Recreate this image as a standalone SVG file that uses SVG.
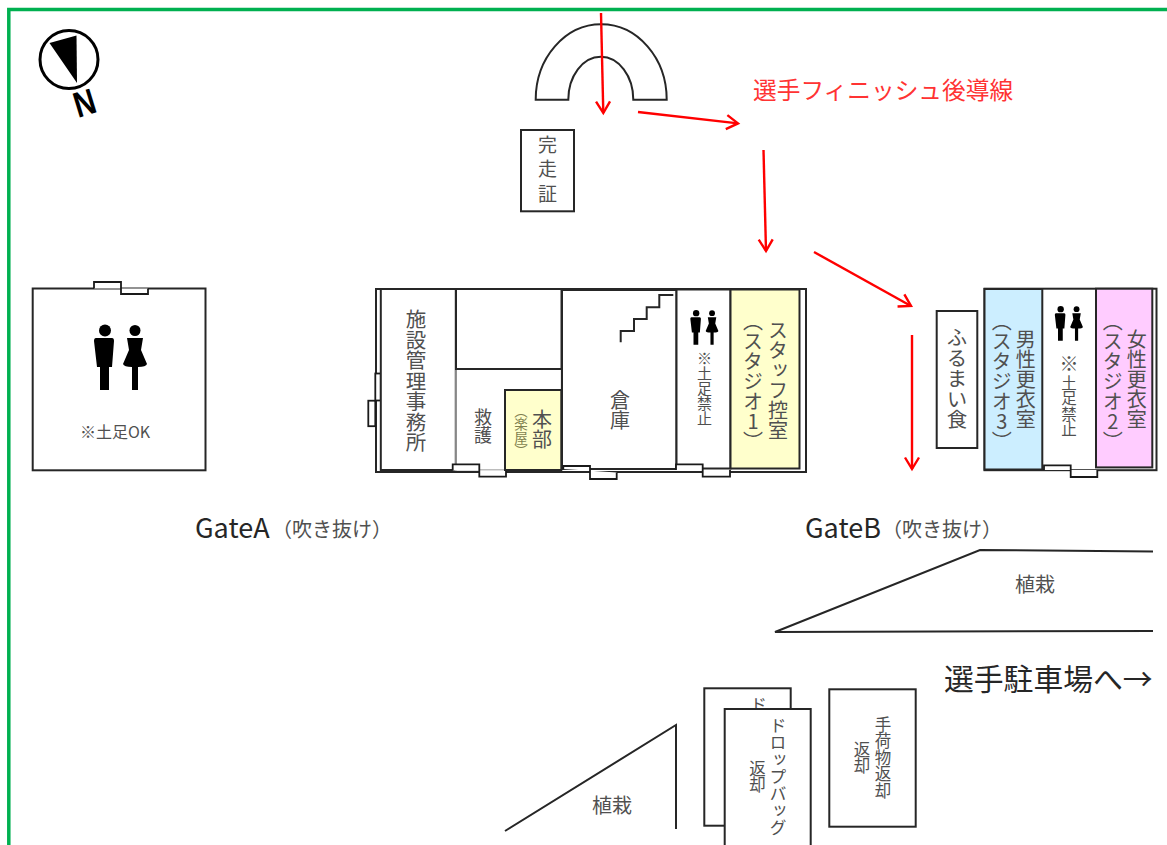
<svg xmlns="http://www.w3.org/2000/svg" xmlns:xlink="http://www.w3.org/1999/xlink" width="1167" height="845" viewBox="0 0 1167 845">
<style>
text{font-family:"Noto Sans CJK JP","Noto Sans",sans-serif;fill:#505050}
.v{writing-mode:vertical-rl;text-anchor:start}
.b{fill:#fff;stroke:#262626;stroke-width:2}
.t{fill:none;stroke:#262626;stroke-width:2}
.g{fill:none;stroke:#a6a6a6;stroke-width:1.5}
.d{fill:#fff;stroke:#1a1a1a;stroke-width:1.8}
.y{fill:#ffffcc;stroke:#262626;stroke-width:2}
.r{fill:none;stroke:#ff0000;stroke-width:2.4;marker-end:url(#ah)}
.u{text-orientation:upright}
.k{fill:#262626}
</style>
<defs>
<marker id="ah" markerUnits="userSpaceOnUse" markerWidth="18" markerHeight="20" refX="14" refY="10" orient="auto">
<path d="M2.500 3 L14 10 L2.500 17" fill="none" stroke="#ff0000" stroke-width="2.400"/>
</marker>
<g id="wc">
<ellipse cx="105" cy="330.500" rx="6" ry="6"/>
<path d="M96 338 H112 Q114 338 114 341 L112 367 H109 V390 H100 V367 H97 L94 341 Q94 338 96 338Z"/>
<ellipse cx="135" cy="330.500" rx="5.500" ry="5.500"/>
<path d="M127 338 H143 L141 350 L147 364 Q146 367 138 367 V390 H132 V367 Q124 367 123 364 L129 350Z"/>
</g>
</defs>
<rect width="1167" height="845" fill="#fff"/>
<path d="M8.800 845 V9.500 H1167" fill="none" stroke="#00b050" stroke-width="3.500"/>

<g id="compass">
<circle cx="69" cy="59.500" r="29" fill="#fff" stroke="#000" stroke-width="3"/>
<path d="M49.500 43 L76.500 35.500 L77 83Z" fill="#000"/>
<text x="0" y="0" transform="translate(78 118) rotate(-17) scale(.82 1)" style="font-family:'Liberation Sans',sans-serif;font-weight:700;fill:#000" font-size="36">N</text>
</g>

<g id="restroom-a">
<rect class="b" x="32.700" y="288.500" width="172.800" height="181.800"/>
<path class="d" d="M94 288.500 V282 H121 V294 H148 V288.500"/>
<use xlink:href="#wc" href="#wc"/>
<text x="80" y="438" font-size="16">※土足OK</text>
</g>

<g id="building-1">
<rect class="b" x="376" y="289" width="430" height="183"/>
<rect class="d" x="368.300" y="400.700" width="7" height="25.500"/>
<rect class="d" x="375.300" y="373.500" width="5.500" height="27"/>
</g>
<g id="office">
<rect class="b" x="380.800" y="289" width="75" height="181"/>
<text class="v" x="416" y="309" font-size="20.500">施設管理事務所</text>
</g>
<g id="first-aid">
<path class="g" d="M456 369 V470 H505 M561.500 369 V390"/>
<text class="v" x="483" y="408" font-size="18">救護</text>
<path class="d" d="M452.700 470.500 V464.300 H479.300 V476.700 H506 V470.500"/>
</g>
<g id="upper-room">
<rect class="b" x="456" y="289" width="105.500" height="80"/>
</g>
<g id="honbu">
<rect class="y" x="505" y="390" width="56.300" height="80"/>
<text class="v" x="542" y="409" font-size="20">本部</text>
<text class="v" x="521" y="404" font-size="13.500" style="fill:#7f7f4f">（楽屋）</text>
</g>
<g id="storage">
<rect class="b" x="562" y="290" width="114.500" height="179" stroke-width="2.500"/>
<path class="t" d="M620.700 342.300 V331 H634 V319 H646.700 V307.300 H659.300 V295 H673.300"/>
<text class="v" x="620" y="390" font-size="20">倉庫</text>
<path class="d" d="M563.300 469 V466 H590 V479 H616.700 V472.500"/>
</g>
<g id="restroom-b">
<rect class="b" x="676.500" y="289.500" width="54" height="179" />
<use xlink:href="#wc" href="#wc" transform="translate(640.500 138) scale(.53)"/>
<text class="v" x="704.500" y="351" font-size="15">※土足禁止</text>
<path class="d" d="M676 470 V464.300 H702.700 V476.700 H730 V470"/>
</g>
<g id="staff-room">
<rect class="y" x="730.500" y="289.500" width="69" height="179"/>
<text class="v" x="778" y="320" font-size="20">スタッフ控室</text>
<text class="v" x="753" y="311" font-size="20">（スタジオ<tspan class="u">1</tspan>）</text>
</g>

<g id="finish-arch">
<path class="t" d="M535.700 99.700 A65.500 75.400 0 0 1 666.700 99.700 H633.300 A32.500 43 0 0 0 568.300 99.700Z"/>
</g>
<g id="certificate">
<rect class="b" x="521" y="130" width="53" height="81.300"/>
<text class="v" x="547.500" y="135" font-size="19" style="letter-spacing:5.500px">完走証</text>
</g>

<g id="snack">
<rect class="b" x="936.700" y="311" width="40.600" height="137"/>
<text class="v" x="957" y="327" font-size="20.500">ふるまい食</text>
</g>
<g id="building-2">
<rect class="b" x="984.500" y="288.700" width="172" height="181.500"/>
</g>
<g id="mens-room">
<rect x="984.500" y="289" width="57.800" height="180.500" fill="#cceeff" stroke="#262626" stroke-width="2"/>
<text class="v" x="1025.700" y="329" font-size="20">男性更衣室</text>
<text class="v" x="1001.700" y="311" font-size="20">（スタジオ<tspan class="u">3</tspan>）</text>
</g>
<g id="restroom-c">
<use xlink:href="#wc" href="#wc" transform="translate(1005 134) scale(.53)"/>
<text class="v" x="1069" y="354" font-size="19">※</text>
<text class="v" x="1069" y="375" font-size="15.500">土足禁止</text>
<path class="d" d="M1044 470 V465.300 H1070.700 V477 H1097.300 V470"/>
</g>
<g id="womens-room">
<rect x="1096" y="288.700" width="56.300" height="178.700" fill="#ffccff" stroke="#262626" stroke-width="2"/>
<text class="v" x="1136.700" y="329" font-size="20">女性更衣室</text>
<text class="v" x="1112.700" y="311" font-size="20">（スタジオ<tspan class="u">2</tspan>）</text>
</g>

<g id="connectors">
<path class="r" d="M601 13 L603.300 113"/>
<path class="r" d="M638 112 L738 123.400"/>
<path class="r" d="M763.500 150 L766 251"/>
<path class="r" d="M814 252 L911 306"/>
<path class="r" d="M912 335 L912 469"/>
</g>

<g id="labels">
<text x="753" y="99" font-size="23.700" style="fill:#ff3333">選手フィニッシュ後導線</text>
<text class="k" x="195" y="538" font-size="27">GateA</text>
<text x="272" y="537" font-size="20">（吹き抜け）</text>
<text class="k" x="805" y="538" font-size="27">GateB</text>
<text x="882" y="537" font-size="20">（吹き抜け）</text>
<text class="k" x="944" y="690" font-size="29.800">選手駐車場へ→</text>
</g>

<g id="planting-1">
<path class="t" d="M1153 551.500 L980 550 L775 632 L1153 631"/>
<text x="1015" y="592" font-size="20">植栽</text>
</g>
<g id="planting-2">
<path class="t" d="M505 831 L676 725 V829"/>
<text x="592" y="813" font-size="20">植栽</text>
</g>

<g id="drop-back">
<rect class="b" x="704.300" y="688.300" width="86.400" height="137.400"/>
<text class="v" x="758.500" y="696" font-size="17">ド</text>
</g>
<g id="drop-front">
<path class="b" d="M724.700 846 V709 H810.700 V846"/>
<text class="v" x="778" y="717" font-size="17">ドロップバッグ</text>
<text class="v" x="757.500" y="760" font-size="16.500">返却</text>
</g>
<g id="baggage">
<rect class="b" x="829.300" y="689.300" width="86.400" height="137.400"/>
<text class="v" x="883" y="716" font-size="16.500">手荷物返却</text>
<text class="v" x="862" y="741" font-size="16.500">返却</text>
</g>
</svg>
